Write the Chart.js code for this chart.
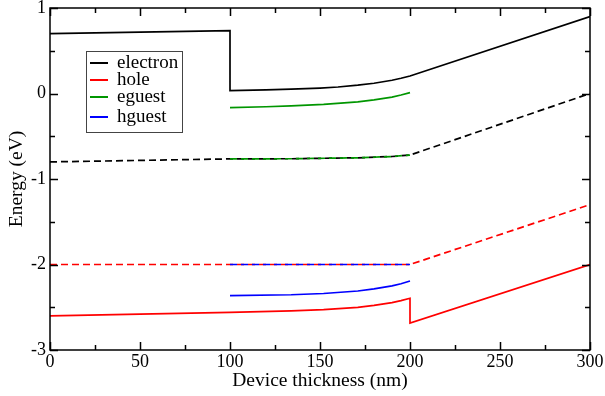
<!DOCTYPE html>
<html>
<head>
<meta charset="utf-8">
<script src="https://cdn.jsdelivr.net/npm/chart.js@4"></script>
<style>
body { margin:0; background:#fff; }
</style>
</head>
<body>
<canvas id="chart" width="605" height="396"></canvas>
<script>
const legendNames = ['electron', 'hole', 'eguest', 'hguest'];
const xTicks = [0, 50, 100, 150, 200, 250, 300];
const yTicks = [1, 0, -1, -2, -3];

// electron (solid = band edge, dashed = second level)
const electronX = [0, 100, 100, 120, 134, 150, 160, 171, 180, 190, 195, 200, 300];
const electronY = [0.70, 0.735, 0.033, 0.042, 0.051, 0.064, 0.076, 0.097, 0.12, 0.155, 0.178, 0.205, 0.90];
const electronDashX = [0, 100, 134, 171, 190, 200, 300];
const electronDashY = [-0.80, -0.765, -0.763, -0.752, -0.737, -0.72, 0.0];

// hole
const holeX = [0, 100, 134, 152, 171, 180, 190, 195, 200, 200, 300];
const holeY = [-2.60, -2.56, -2.542, -2.527, -2.502, -2.478, -2.445, -2.422, -2.395, -2.685, -2.0];
const holeDashX = [0, 200, 300];
const holeDashY = [-2.0, -2.0, -1.30];

// eguest
const eguestX = [100, 120, 134, 152, 171, 180, 190, 195, 200];
const eguestY = [-0.166, -0.155, -0.145, -0.128, -0.097, -0.074, -0.042, -0.018, 0.01];
const eguestDashX = [100, 134, 171, 190, 200];
const eguestDashY = [-0.765, -0.763, -0.752, -0.737, -0.72];

// hguest
const hguestX = [100, 134, 152, 171, 180, 190, 195, 200];
const hguestY = [-2.365, -2.354, -2.339, -2.31, -2.285, -2.25, -2.225, -2.193];
const hguestDashX = [100, 200];
const hguestDashY = [-2.0, -2.0];

const colors = { electron: '#000000', hole: '#ff0000', eguest: '#009600', hguest: '#0000ff' };

function pts(xs, ys) {
    return xs.map((x, i) => ({ x: x, y: ys[i] }));
}

function line(label, xs, ys, color, dashed) {
    return {
        label: label,
        data: pts(xs, ys),
        borderColor: color,
        borderWidth: 1.7,
        borderDash: dashed ? [7, 4] : [],
        pointRadius: 0,
        tension: 0,
        fill: false
    };
}

// first dataset is drawn on top
const datasets = [
    line('eguest dashed', eguestDashX, eguestDashY, colors.eguest, true),
    line('hguest dashed', hguestDashX, hguestDashY, colors.hguest, true),
    line('eguest', eguestX, eguestY, colors.eguest, false),
    line('hguest', hguestX, hguestY, colors.hguest, false),
    line('electron', electronX, electronY, colors.electron, false),
    line('hole', holeX, holeY, colors.hole, false),
    line('electron dashed', electronDashX, electronDashY, colors.electron, true),
    line('hole dashed', holeDashX, holeDashY, colors.hole, true)
];

const serif = 'Liberation Serif';

// frame with inward ticks on all four sides
const framePlugin = {
    id: 'frame',
    afterDatasetsDraw(chart) {
        const ctx = chart.ctx;
        const a = chart.chartArea;
        const xs = chart.scales.x, ys = chart.scales.y;
        ctx.save();
        ctx.strokeStyle = '#000';
        ctx.lineWidth = 1.5;
        ctx.strokeRect(a.left, a.top, a.right - a.left, a.bottom - a.top);
        ctx.beginPath();
        for (let v = 0; v <= 300; v += 25) {
            const px = Math.round(xs.getPixelForValue(v)) + 0.5;
            const len = v % 50 === 0 ? 8 : 5;
            ctx.moveTo(px, a.bottom); ctx.lineTo(px, a.bottom - len);
            ctx.moveTo(px, a.top); ctx.lineTo(px, a.top + len);
        }
        for (let v = -3; v <= 1; v += 0.5) {
            const py = Math.round(ys.getPixelForValue(v)) + 0.5;
            const len = Number.isInteger(v) ? 8 : 5;
            ctx.moveTo(a.left, py); ctx.lineTo(a.left + len, py);
            ctx.moveTo(a.right, py); ctx.lineTo(a.right - len, py);
        }
        ctx.stroke();
        ctx.restore();
    }
};

// legend box inside the plot
const legendPlugin = {
    id: 'boxLegend',
    afterDraw(chart) {
        const ctx = chart.ctx;
        const box = { x: 86, y: 51, w: 96, h: 81 };
        const rows = [63, 80, 97, 117];
        ctx.save();
        ctx.fillStyle = '#fff';
        ctx.fillRect(box.x, box.y, box.w, box.h);
        ctx.strokeStyle = '#444';
        ctx.lineWidth = 1;
        ctx.strokeRect(box.x + 0.5, box.y + 0.5, box.w, box.h);
        ctx.font = '19px "' + serif + '"';
        ctx.textBaseline = 'middle';
        legendNames.forEach((name, i) => {
            ctx.strokeStyle = colors[name];
            ctx.lineWidth = 2;
            ctx.beginPath();
            ctx.moveTo(90, rows[i]);
            ctx.lineTo(108, rows[i]);
            ctx.stroke();
            ctx.fillStyle = '#000';
            ctx.fillText(name, 117, rows[i]);
        });
        ctx.restore();
    }
};

new Chart(document.getElementById('chart'), {
    type: 'line',
    data: { datasets: datasets },
    options: {
        responsive: false,
        animation: false,
        layout: { autoPadding: false, padding: { top: 8, right: 15, left: 0, bottom: 0 } },
        plugins: { legend: { display: false }, tooltip: { enabled: false } },
        scales: {
            x: {
                type: 'linear',
                min: 0,
                max: 300,
                afterBuildTicks: s => { s.ticks = xTicks.map(v => ({ value: v })); },
                afterFit: s => { s.height = 46; s.paddingLeft = 0; s.paddingRight = 0; },
                grid: { display: false, drawTicks: false },
                border: { display: false },
                ticks: { color: '#000', padding: 1, maxRotation: 0, font: { family: serif, size: 18 } },
                title: { display: true, text: 'Device thickness (nm)', color: '#000', padding: { top: 3, bottom: 3 }, font: { family: serif, size: 19.5 } }
            },
            y: {
                type: 'linear',
                min: -3,
                max: 1,
                afterBuildTicks: s => { s.ticks = yTicks.map(v => ({ value: v })); },
                afterFit: s => { s.width = 50; s.paddingTop = 0; s.paddingBottom = 0; },
                grid: { display: false, drawTicks: false },
                border: { display: false },
                ticks: { color: '#000', padding: 4, font: { family: serif, size: 18 } },
                title: { display: true, text: 'Energy (eV)', color: '#000', padding: { top: 5, bottom: 5 }, font: { family: serif, size: 19.5 } }
            }
        }
    },
    plugins: [framePlugin, legendPlugin]
});
</script>
</body>
</html>
